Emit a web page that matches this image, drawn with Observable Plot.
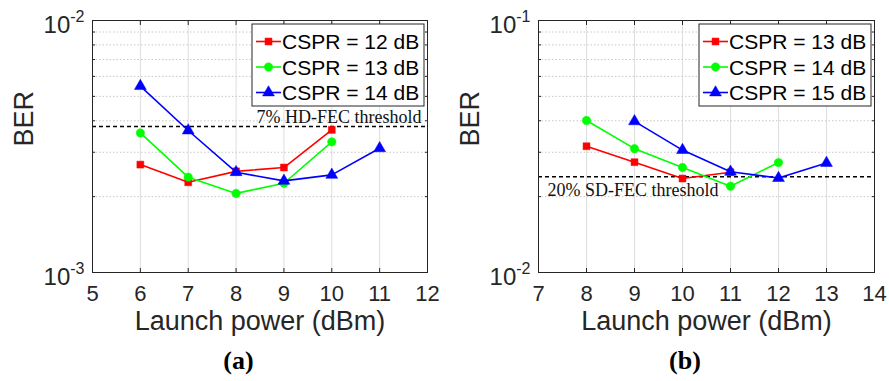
<!DOCTYPE html>
<html><head><meta charset="utf-8">
<script src="https://cdn.jsdelivr.net/npm/d3@7"></script>
<script src="https://cdn.jsdelivr.net/npm/@observablehq/plot@0.6"></script>
<style>
body{margin:0;background:#fff;}
#wrap{display:flex;width:889px;height:381px;overflow:hidden;}
svg{display:block;}
</style></head><body><div id="wrap"></div>
<script>
// ---------- data ----------
const xTicksA = [5, 6, 7, 8, 9, 10, 11, 12];
const xTicksB = [7, 8, 9, 10, 11, 12, 13, 14];
const yDecadesA = [1e-3, 1e-2];
const yDecadesB = [1e-2, 1e-1];
const namesA = ["CSPR = 12 dB", "CSPR = 13 dB", "CSPR = 14 dB"];
const namesB = ["CSPR = 13 dB", "CSPR = 14 dB", "CSPR = 15 dB"];

const powerA12 = [6, 7, 8, 9, 10];
const berA12   = [2.68e-3, 2.28e-3, 2.52e-3, 2.61e-3, 3.68e-3];
const powerA13 = [6, 7, 8, 9, 10];
const berA13   = [3.58e-3, 2.39e-3, 2.06e-3, 2.26e-3, 3.30e-3];
const powerA14 = [6, 7, 8, 9, 10, 11];
const berA14   = [5.49e-3, 3.66e-3, 2.50e-3, 2.31e-3, 2.44e-3, 3.11e-3];

const powerB13 = [8, 9, 10, 11];
const berB13   = [3.17e-2, 2.74e-2, 2.36e-2, 2.50e-2];
const powerB14 = [8, 9, 10, 11, 12];
const berB14   = [4.01e-2, 3.10e-2, 2.61e-2, 2.20e-2, 2.73e-2];
const powerB15 = [9, 10, 11, 12, 13];
const berB15   = [3.98e-2, 3.06e-2, 2.51e-2, 2.37e-2, 2.72e-2];

const thresholdA = 3.8e-3;
const thresholdB = 2.4e-2;
const thresholdLabelA = "7% HD-FEC threshold";
const thresholdLabelB = "20% SD-FEC threshold";
const xLabel = "Launch power (dBm)";
const yLabel = "BER";
const captionA = "(a)";
const captionB = "(b)";

// ---------- styles ----------
const colors = ["#ff0000", "#00ff00", "#0000ff"];
const symbols = ["square", "circle", "triangle"];
const symbolR = [3.9, 4.2, 4.4];
const axisColor = "#262626";
const sans = "'Liberation Sans', Arial, Helvetica, sans-serif";
const serif = "'Liberation Serif', 'Times New Roman', serif";

function panel(cfg) {
  const {width, ml, mr, xTicks, decades, series, names, thr, thrLabel, thrAnchor, caption} = cfg;
  const mt = 20, mb = 109, height = 381;
  const minor = [];
  for (const d of decades.slice(0, -1)) for (let k = 2; k <= 9; k++) minor.push(d * k);
  const innerX = xTicks.slice(1, -1);
  const xDom = [xTicks[0], xTicks[xTicks.length - 1]];
  const marks = [
    Plot.ruleX(innerX, {stroke: "#dedede", strokeWidth: 1}),
    Plot.ruleY(minor, {stroke: "#c8c8c8", strokeWidth: 1, strokeDasharray: "1.5,2"}),
    Plot.ruleY([thr], {stroke: "#000", strokeWidth: 1.5, strokeDasharray: "4,3"}),
  ];
  series.forEach((s, i) => {
    const rows = s.x.map((x, j) => ({x, y: s.y[j]}));
    marks.push(Plot.line(rows, {x: "x", y: "y", stroke: colors[i], strokeWidth: 1.6}));
    marks.push(Plot.dot(rows, {x: "x", y: "y", symbol: symbols[i], r: symbolR[i], fill: colors[i], stroke: colors[i], strokeWidth: 0.5}));
  });
  marks.push(
    Plot.text([thrLabel], thrAnchor === "end"
      ? {x: () => xDom[1], y: () => thr, text: d => d, textAnchor: "end", dx: -6, dy: -9, fontSize: 18, fontFamily: serif, fill: "#111"}
      : {x: () => xDom[0], y: () => thr, text: d => d, textAnchor: "start", dx: 9, dy: 14, fontSize: 18, fontFamily: serif, fill: "#111"}),
    Plot.frame({stroke: axisColor, strokeWidth: 1}),
    Plot.axisX({anchor: "bottom", ticks: xTicks, tickSize: -4, tickFormat: () => "", label: null, stroke: axisColor}),
    Plot.axisX({anchor: "top", ticks: xTicks, tickSize: -4, tickFormat: () => "", label: null, stroke: axisColor}),
    Plot.axisY({anchor: "left", ticks: [...decades, ...minor], tickSize: -3, tickFormat: () => "", label: null, stroke: axisColor}),
    Plot.axisY({anchor: "right", ticks: [...decades, ...minor], tickSize: -3, tickFormat: () => "", label: null, stroke: axisColor}),
    Plot.axisX({anchor: "bottom", ticks: xTicks, tickSize: 0, tickPadding: 13, fontSize: 22, label: null, fill: axisColor, fontFamily: sans,
      tickFormat: d => String(d)}),
    Plot.axisY({anchor: "left", ticks: decades, tickSize: 0, tickPadding: 8, fontSize: 24, label: null, fill: axisColor, fontFamily: sans,
      tickFormat: d => "10|" + Math.round(Math.log10(d))}),
    Plot.text([xLabel], {frameAnchor: "bottom", text: d => d, dy: 57, fontSize: 27, fontFamily: sans, fill: axisColor}),
    Plot.text([yLabel], {frameAnchor: "left", text: d => d, rotate: -90, dx: -68, fontSize: 27, fontFamily: sans, fill: axisColor}),
    Plot.text([caption], {frameAnchor: "bottom", text: d => d, dy: 96, dx: -21.5, fontSize: 26, fontWeight: "bold", fontFamily: serif, fill: "#000"})
  );
  const svg = Plot.plot({
    width, height, marginLeft: ml, marginRight: mr, marginTop: mt, marginBottom: mb,
    style: {fontFamily: sans, background: "#fff", overflow: "visible"},
    x: {domain: xDom},
    y: {type: "log", domain: [decades[0], decades[decades.length - 1]]},
    marks
  });
  // superscript exponents on y tick labels
  d3.select(svg).selectAll("text").each(function() {
    const t = this.textContent;
    if (/^10\|/.test(t)) {
      const exp = t.split("|")[1];
      const sel = d3.select(this);
      sel.text(null);
      sel.append("tspan").attr("dy", 5).text("10");
      sel.append("tspan").attr("dy", -11.5).attr("font-size", 16).text(exp);
    }
  });
  // legend
  const right = width - mr - 3, left = right - 172, top = 24, bottom = 106;
  const g = d3.select(svg).append("g").attr("aria-label", "legend").attr("text-anchor", "start");
  g.append("rect").attr("x", left).attr("y", top).attr("width", right - left).attr("height", bottom - top)
    .attr("fill", "#fff").attr("stroke", axisColor).attr("stroke-width", 1);
  names.forEach((name, i) => {
    const cy = top + 17.5 + i * 25.5;
    g.append("line").attr("x1", left + 4).attr("x2", left + 29).attr("y1", cy).attr("y2", cy)
      .attr("stroke", colors[i]).attr("stroke-width", 1.6);
    const sym = {square: d3.symbolSquare, circle: d3.symbolCircle, triangle: d3.symbolTriangle}[symbols[i]];
    g.append("path").attr("transform", `translate(${left + 16.5},${cy})`)
      .attr("d", d3.symbol(sym, Math.PI * symbolR[i] * symbolR[i])())
      .attr("fill", colors[i]).attr("stroke", colors[i]).attr("stroke-width", 0.5);
    g.append("text").attr("x", left + 30).attr("y", cy).attr("dy", "0.36em").attr("text-anchor", "start")
      .attr("font-size", 21).attr("font-family", sans).attr("fill", "#000").text(name);
  });
  return svg;
}

const wrap = document.getElementById("wrap");
wrap.append(panel({
  width: 445, ml: 92, mr: 18, xTicks: xTicksA, decades: yDecadesA,
  series: [{x: powerA12, y: berA12}, {x: powerA13, y: berA13}, {x: powerA14, y: berA14}],
  names: namesA, thr: thresholdA, thrLabel: thresholdLabelA, thrAnchor: "end", caption: captionA
}));
wrap.append(panel({
  width: 444, ml: 93, mr: 15, xTicks: xTicksB, decades: yDecadesB,
  series: [{x: powerB13, y: berB13}, {x: powerB14, y: berB14}, {x: powerB15, y: berB15}],
  names: namesB, thr: thresholdB, thrLabel: thresholdLabelB, thrAnchor: "start", caption: captionB
}));
</script></body></html>
